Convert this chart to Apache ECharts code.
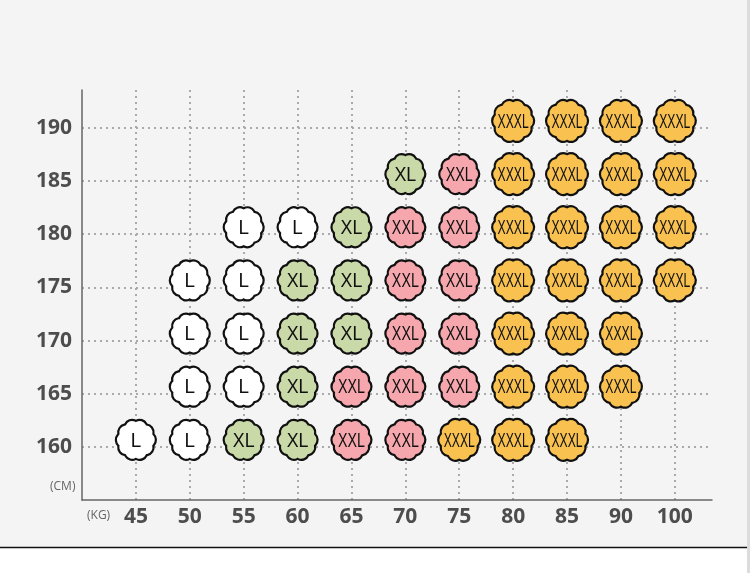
<!DOCTYPE html>
<html>
<head>
<meta charset="utf-8">
<script src="https://cdn.jsdelivr.net/npm/echarts@6/dist/echarts.min.js"></script>
<style>
html,body{margin:0;padding:0;background:#f4f4f4;}
#main{width:750px;height:573px;}
</style>
</head>
<body>
<div id="main"></div>
<script>
// 体重 (KG) 和 身高 (CM)
var weights = ["45","50","55","60","65","70","75","80","85","90","100"];
var heights = [160,165,170,175,180,185,190];
// 每一行：按体重顺序的尺码，空字符串 = 没有
var row160 = ["L","L","XL","XL","XXL","XXL","XXXL","XXXL","XXXL","",""];
var row165 = ["","L","L","XL","XXL","XXL","XXL","XXXL","XXXL","XXXL",""];
var row170 = ["","L","L","XL","XL","XXL","XXL","XXXL","XXXL","XXXL",""];
var row175 = ["","L","L","XL","XL","XXL","XXL","XXXL","XXXL","XXXL","XXXL"];
var row180 = ["","","L","L","XL","XXL","XXL","XXXL","XXXL","XXXL","XXXL"];
var row185 = ["","","","","","XL","XXL","XXXL","XXXL","XXXL","XXXL"];
var row190 = ["","","","","","","","XXXL","XXXL","XXXL","XXXL"];
var rows = [row160,row165,row170,row175,row180,row185,row190];

var sizes = ["L","XL","XXL","XXXL"];
var sizeColors = {L:"#ffffff",XL:"#c9d9a7",XXL:"#f5a7ad",XXXL:"#f8c150"};
// 字要窄一点（压扁）
var labelScale = {L:0.9,XL:0.85,XXL:0.68,XXXL:0.58};

// 花边圆形
function scallop(n,R){
    var c=2*R*Math.sin(Math.PI/n), r=c*0.68;
    var d="";
    for(var k=0;k<=n;k++){
        var a=2*Math.PI*k/n - Math.PI/2;
        var x=(R*Math.cos(a)).toFixed(2), y=(R*Math.sin(a)).toFixed(2);
        if(k==0) d+="M"+x+" "+y;
        else d+=" A"+r.toFixed(2)+" "+r.toFixed(2)+" 0 0 1 "+x+" "+y;
    }
    return "path://"+d+" Z";
}
var shape=scallop(10,20);
var lift=7;

var series=[];
var allData=[];
sizes.forEach(function(s){
    var data=[];
    rows.forEach(function(row,hi){
        row.forEach(function(v,wi){
            if(v==s){ data.push([wi,heights[hi],v]); allData.push([wi,heights[hi],v]); }
        });
    });
    series.push({
        name:s,
        type:"scatter",
        symbol:shape,
        symbolSize:s=="XXXL"?42:40,
        symbolOffset:[0,-lift],
        data:data,
        itemStyle:{color:sizeColors[s],borderColor:"#111",borderWidth:2.2,opacity:1},
        label:{show:false},
        emphasis:{disabled:true},
        z:2
    });
});
// 尺码文字
series.push({
    type:"custom",
    data:allData,
    z:3,
    renderItem:function(params,api){
        var s=allData[params.dataIndex][2];
        var pt=api.coord([api.value(0),api.value(1)]);
        return {
            type:"text",
            x:pt[0],y:pt[1]-lift+1,
            scaleX:labelScale[s],
            style:{text:s,fill:"#111",font:"21px 'Liberation Sans',sans-serif",align:"center",verticalAlign:"middle"}
        };
    }
});

var myChart=echarts.init(document.getElementById("main"));
myChart.setOption({
    backgroundColor:"#f4f4f4",
    animation:false,
    grid:{left:82,right:38,top:90,bottom:73},
    xAxis:{
        type:"value",min:-1,max:10.69,interval:1,
        axisLine:{show:true,onZero:false,lineStyle:{color:"#666",width:1.5}},
        axisTick:{show:false},
        axisLabel:{
            margin:7,color:"#4d4d4d",fontSize:21,fontWeight:"bold",fontFamily:"'Open Sans',sans-serif",
            showMinLabel:false,showMaxLabel:false,
            formatter:function(v){return (v>=0&&v%1==0)?weights[v]:"";}
        },
        splitLine:{show:true,showMinLine:false,showMaxLine:false,lineStyle:{color:"#aaa",type:[2,4],width:2}}
    },
    yAxis:{
        type:"value",min:155,max:193.57,interval:5,
        axisLine:{show:true,onZero:false,lineStyle:{color:"#666",width:1.5}},
        axisTick:{show:false},
        axisLabel:{
            margin:10,color:"#4d4d4d",fontSize:21,fontWeight:"bold",fontFamily:"'Open Sans',sans-serif",
            showMinLabel:false,showMaxLabel:false,
            formatter:function(v){return (v>155&&v%5==0)?String(v):"";}
        },
        splitLine:{show:true,showMinLine:false,showMaxLine:false,lineStyle:{color:"#aaa",type:[2,4],width:2}}
    },
    graphic:[
        {type:"text",left:50,top:481,style:{text:"(CM)",fill:"#666",font:"12px 'Open Sans',sans-serif"}},
        {type:"text",left:87,top:510,style:{text:"(KG)",fill:"#666",font:"12px 'Open Sans',sans-serif"}},
        {type:"rect",shape:{x:0,y:548,width:750,height:25},style:{fill:"#ffffff"}},
        {type:"line",shape:{x1:0,y1:547.5,x2:750,y2:547.5},style:{stroke:"#111",lineWidth:1.5}},
        {type:"rect",shape:{x:747,y:0,width:3,height:573},style:{fill:"#dcdcdc"}}
    ],
    series:series
});
</script>
</body>
</html>
